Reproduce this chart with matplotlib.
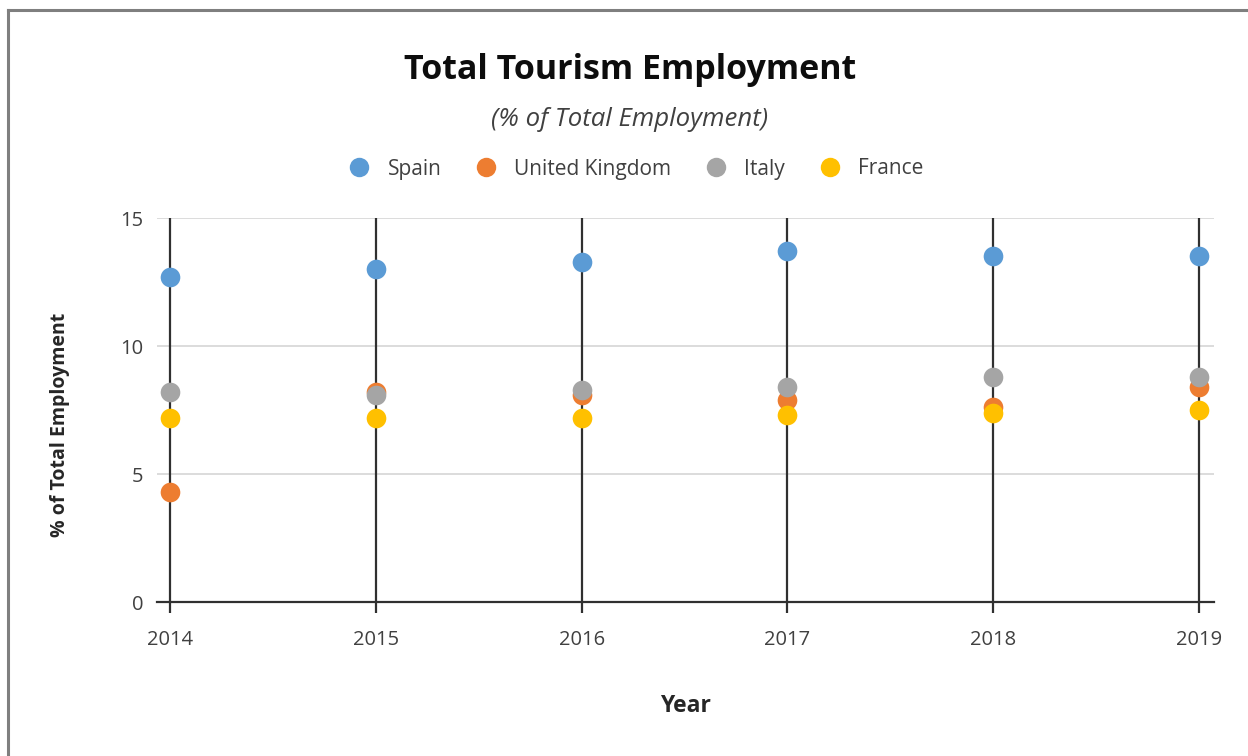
import matplotlib
matplotlib.use("Agg")
import matplotlib.pyplot as plt
from matplotlib.lines import Line2D

years = [2014, 2015, 2016, 2017, 2018, 2019]
spain = [12.7, 13.0, 13.3, 13.7, 13.5, 13.5]
uk = [4.3, 8.2, 8.1, 7.9, 7.6, 8.4]
italy = [8.2, 8.1, 8.3, 8.4, 8.8, 8.8]
france = [7.2, 7.2, 7.2, 7.3, 7.4, 7.5]
series_names = ["Spain", "United Kingdom", "Italy", "France"]
series_values = [spain, uk, italy, france]
colors = ["#5B9BD5", "#ED7D31", "#A5A5A5", "#FFC000"]
yticks = [0, 5, 10, 15]

plt.rcParams['font.family'] = ['Open Sans', 'DejaVu Sans']

W, H = 1248, 756
fig = plt.figure(figsize=(W / 100, H / 100), dpi=100)
ax = fig.add_axes([157 / W, 1 - 602 / H, (1214 - 157) / W, (602 - 218) / H])

# horizontal gridlines
for yv in yticks[1:]:
    ax.axhline(yv, color="#D9D9D9", lw=1.3, zorder=1)
# vertical dark lines at each year
for xv in years:
    ax.axvline(xv, ymin=0, ymax=1, color="#303030", lw=1.6, zorder=2)

for name, vals, c in zip(series_names, series_values, colors):
    ax.scatter(years, vals, s=200, color=c, label=name, zorder=3, linewidths=0)

ax.set_xlim(years[0] - 13 / 205.8, years[-1] + 15 / 205.8)
ax.set_ylim(0, 15)
ax.set_xticks(years)
ax.set_xticklabels([str(y) for y in years])
ax.set_yticks(yticks)
ax.set_yticklabels([str(v) for v in yticks])

for s in ["top", "right", "left"]:
    ax.spines[s].set_visible(False)
ax.spines["bottom"].set_color("#303030")
ax.spines["bottom"].set_linewidth(1.6)
ax.spines["bottom"].set_zorder(2)

ax.tick_params(axis="x", length=8, width=1.6, color="#303030", pad=12,
               labelsize=14.5, labelcolor="#404040")
ax.tick_params(axis="y", length=0, pad=10, labelsize=14.5, labelcolor="#404040")

fig.text(60 / W, 1 - 425 / H, "% of Total Employment", rotation=90,
         ha="center", va="center", fontsize=14, fontweight="bold", color="#262626")
fig.text(685 / W, 1 - 706 / H, "Year", ha="center", va="center",
         fontsize=16.5, fontweight="bold", color="#262626")

fig.text(630 / W, 1 - 70 / H, "Total Tourism Employment", ha="center", va="center",
         fontsize=24.5, fontweight="bold", color="#0D0D0D")
fig.text(630 / W, 1 - 119 / H, "(% of Total Employment)", ha="center", va="center",
         fontsize=18.5, style="italic", color="#404040")

handles = [Line2D([], [], marker="o", linestyle="none", markersize=14,
                  markerfacecolor=c, markeredgewidth=0) for c in colors]
leg = fig.legend(handles, series_names, loc="center", bbox_to_anchor=(631 / W, 1 - 169 / H),
                 ncol=4, frameon=False, fontsize=15, handletextpad=0.35,
                 columnspacing=1.15, labelcolor="#404040")

# partial frame border (left and top)
fig.add_artist(Line2D([8 / W, 8 / W], [0, 1 - 10 / H], transform=fig.transFigure,
                      color="#7F7F7F", lw=2.2))
fig.add_artist(Line2D([8 / W, 1], [1 - 10 / H, 1 - 10 / H], transform=fig.transFigure,
                      color="#7F7F7F", lw=2.2))

fig.savefig("out.png", dpi=100)
